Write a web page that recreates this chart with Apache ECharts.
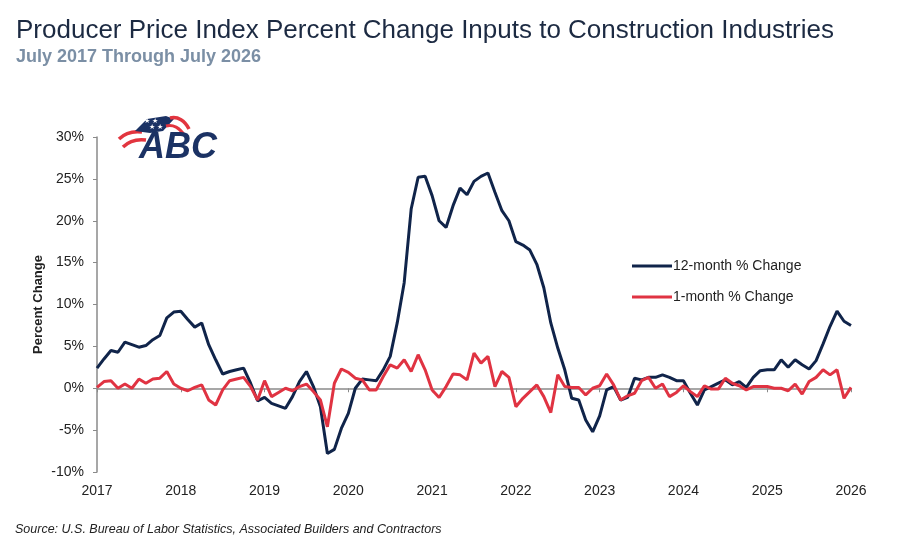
<!DOCTYPE html>
<html lang="en">
<head>
    <meta charset="UTF-8">
    <title>PPI Inputs to Construction</title>
    <style>
        html, body { margin: 0; padding: 0; background: #fff; }
        #chart { width: 900px; height: 550px; }
    </style>
</head>
<body>
<div id="chart"></div>
<script type="text/javascript" src="https://cdn.jsdelivr.net/npm/echarts@6/dist/echarts.min.js"></script>
<script type="text/javascript">
// monthly readings, first point = start of 2017
var startYear = 2017;
var yearTicks = [2017, 2018, 2019, 2020, 2021, 2022, 2023, 2024, 2025, 2026];
var twelveMonth = [
    2.4, 3.5, 4.5, 4.3, 5.5, 5.2, 4.9, 5.1, 5.8, 6.3, 8.4, 9.1,
    9.2, 8.2, 7.3, 7.8, 5.2, 3.4, 1.7, 2.0, 2.2, 2.4, 0.6, -1.5,
    -1.1, -1.8, -2.1, -2.4, -1.0, 0.8, 2.0, 0.2, -2.2, -7.8, -7.3, -4.8,
    -3.0, 0.0, 1.1, 1.0, 0.9, 2.2, 3.8, 7.8, 12.6, 21.4, 25.2, 25.3,
    23.0, 20.0, 19.2, 21.8, 23.9, 23.1, 24.7, 25.3, 25.7, 23.4, 21.2, 20.0,
    17.5, 17.1, 16.5, 14.8, 12.0, 7.8, 4.8, 2.2, -1.2, -1.4, -3.8, -5.2,
    -3.3, -0.2, 0.2, -1.4, -1.1, 1.2, 1.0, 1.3, 1.3, 1.6, 1.3, 0.9,
    0.9, -0.6, -2.0, -0.2, 0.2, 0.6, 1.0, 0.4, 0.8, 0.1, 1.3, 2.1,
    2.2, 2.2, 3.4, 2.5, 3.4, 2.8, 2.3, 3.3, 5.3, 7.4, 9.2, 8.0,
    7.5
];
var oneMonth = [
    0.1, 0.8, 0.9, 0.0, 0.5, 0.0, 1.1, 0.6, 1.1, 1.2, 2.0, 0.5,
    0.0, -0.3, 0.1, 0.4, -1.4, -2.0, -0.2, 0.9, 1.1, 1.3, 0.2, -1.4,
    0.9, -1.0, -0.5, 0.0, -0.3, 0.2, 0.5, -0.4, -1.4, -4.6, 0.6, 2.3,
    1.9, 1.2, 1.0, -0.2, -0.2, 1.4, 2.8, 2.4, 3.4, 2.0, 4.0, 2.2,
    -0.2, -1.1, 0.2, 1.7, 1.6, 1.0, 4.2, 3.0, 3.8, 0.2, 2.0, 1.3,
    -2.2, -1.2, -0.4, 0.4, -1.0, -2.9, 1.6, 0.2, 0.1, 0.1, -0.8, 0.0,
    0.3, 1.7, 0.4, -1.4, -0.9, -0.6, 0.9, 1.3, 0.0, 0.5, -1.0, -0.5,
    0.3, -0.4, -1.0, 0.3, -0.1, -0.1, 1.2, 0.6, 0.3, -0.2, 0.2, 0.2,
    0.2, 0.0, 0.0, -0.3, 0.5, -0.7, 0.8, 1.3, 2.2, 1.6, 2.2, -1.2,
    0.1
];
var seriesNames = ['12-month % Change', '1-month % Change'];

function toPoints(arr) {
    return arr.map(function (v, i) { return [startYear + i / 12, v]; });
}

var myChart = echarts.init(document.getElementById('chart'));
var font = 'Liberation Sans, Arial, sans-serif';
var navy = '#10244a';
var red = '#e03342';

var option = {
    backgroundColor: '#fff',
    animation: false,
    textStyle: { fontFamily: font },
    title: {
        text: 'Producer Price Index Percent Change Inputs to Construction Industries',
        subtext: 'July 2017 Through July 2026',
        left: 11,
        top: 13,
        itemGap: 4,
        textStyle: { fontSize: 26, fontWeight: 'normal', color: '#1c2a42', fontFamily: font },
        subtextStyle: { fontSize: 18, fontWeight: 'bold', color: '#7b8fa5', fontFamily: font }
    },
    legend: {
        orient: 'vertical',
        left: 632,
        top: 259,
        padding: 0,
        itemWidth: 40,
        itemHeight: 3,
        itemGap: 17,
        icon: 'rect',
        data: seriesNames,
        textStyle: { fontSize: 14, color: '#222', padding: [0, 0, 0, -4] }
    },
    grid: { left: 97, right: 49, top: 137, bottom: 78 },
    xAxis: [
        {
            type: 'value',
            min: 2017,
            max: 2026,
            interval: 1,
            position: 'bottom',
            axisLine: { show: false, onZero: false },
            axisTick: { show: false },
            splitLine: { show: false },
            axisLabel: { fontSize: 14, color: '#222', margin: 12, formatter: function (v) { return yearTicks.indexOf(v) >= 0 ? String(v) : ''; } }
        },
        {
            type: 'value',
            min: 2017,
            max: 2026,
            interval: 1,
            position: 'bottom',
            axisLine: { show: true, onZero: true, lineStyle: { color: '#8a8a8a', width: 1.5 } },
            axisTick: { show: true, inside: false, length: 4, lineStyle: { color: '#8a8a8a' } },
            axisLabel: { show: false },
            splitLine: { show: false }
        }
    ],
    yAxis: {
        type: 'value',
        min: -10,
        max: 30,
        interval: 5,
        name: 'Percent Change',
        nameLocation: 'middle',
        nameGap: 52,
        nameMoveOverlap: false,
        nameTextStyle: { fontSize: 13, fontWeight: 'bold', color: '#222' },
        axisLine: { show: true, lineStyle: { color: '#8a8a8a', width: 1.5 } },
        axisTick: { show: true, length: 4, lineStyle: { color: '#8a8a8a' } },
        splitLine: { show: false },
        axisLabel: { fontSize: 14, color: '#222', margin: 13, formatter: '{value}%' }
    },
    series: [
        {
            name: seriesNames[0],
            type: 'line',
            xAxisIndex: 0,
            data: toPoints(twelveMonth),
            showSymbol: false,
            lineStyle: { width: 3, color: navy },
            itemStyle: { color: navy },
            z: 3
        },
        {
            name: seriesNames[1],
            type: 'line',
            xAxisIndex: 0,
            data: toPoints(oneMonth),
            showSymbol: false,
            lineStyle: { width: 3, color: red },
            itemStyle: { color: red },
            z: 4
        }
    ],
    graphic: [
        // ABC logo (rough drawing)
        { type: 'bezierCurve', shape: { x1: 119, y1: 139, x2: 142, y2: 132, cpx1: 125, cpy1: 133, cpx2: 134, cpy2: 131 }, style: { stroke: '#e2353f', lineWidth: 3.5, fill: null } },
        { type: 'bezierCurve', shape: { x1: 123, y1: 147, x2: 146, y2: 140, cpx1: 129, cpy1: 141, cpx2: 138, cpy2: 139 }, style: { stroke: '#e2353f', lineWidth: 3.5, fill: null } },
        { type: 'polygon', shape: { points: [[135, 131], [147, 119], [166, 116], [174, 119], [163, 131], [150, 133]] }, style: { fill: '#1b3264' } },
        { type: 'text', left: 144, top: 118, style: { text: '★ ★', fill: '#fff', fontSize: 7 } },
        { type: 'text', left: 149, top: 124, style: { text: '★ ★', fill: '#fff', fontSize: 7 } },
        { type: 'bezierCurve', shape: { x1: 170, y1: 118, x2: 189, y2: 129, cpx1: 178, cpy1: 116, cpx2: 185, cpy2: 121 }, style: { stroke: '#e2353f', lineWidth: 3.5, fill: null } },
        { type: 'bezierCurve', shape: { x1: 166, y1: 126, x2: 184, y2: 135, cpx1: 173, cpy1: 124, cpx2: 180, cpy2: 128 }, style: { stroke: '#e2353f', lineWidth: 3, fill: null } },
        { type: 'text', left: 139, top: 130, style: { text: 'ABC', fill: '#1b3264', fontSize: 36, fontWeight: 'bold', fontStyle: 'italic', fontFamily: font } },
        {
            type: 'text',
            left: 15,
            top: 523,
            style: {
                text: 'Source: U.S. Bureau of Labor Statistics, Associated Builders and Contractors',
                fill: '#222',
                fontSize: 12.5,
                fontStyle: 'italic',
                fontFamily: font
            }
        }
    ]
};
myChart.setOption(option);
</script>
</body>
</html>
